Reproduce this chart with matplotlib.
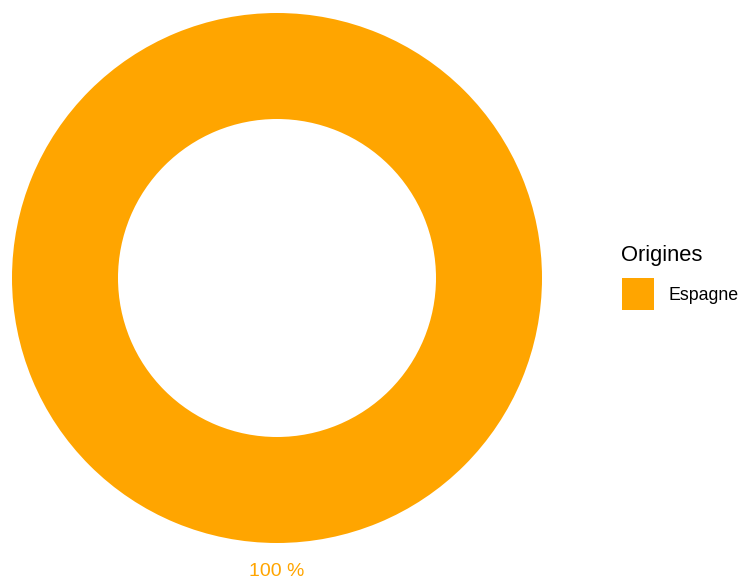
import matplotlib
matplotlib.use("Agg")
import matplotlib.pyplot as plt
from matplotlib.patches import Rectangle

plt.rcParams['font.family'] = ['Liberation Sans', 'DejaVu Sans']

categories = ["Espagne"]
values = [100]
colors = ["#FFA500"]
legend_title = "Origines"

W, H = 741, 581
fig = plt.figure(figsize=(W/100, H/100), dpi=100)

cx, cy, R = 277, 278, 265
ax = fig.add_axes([(cx-R)/W, (H-cy-R)/H, 2*R/W, 2*R/H])
ax.set_xlim(-1, 1)
ax.set_ylim(-1, 1)
ax.set_aspect('equal')
ax.axis('off')

total = sum(values)
ax.pie(values, colors=colors, radius=1, startangle=90, counterclock=False,
       wedgeprops=dict(width=0.4, edgecolor='none'))
ax.set_xlim(-1, 1)
ax.set_ylim(-1, 1)
for v, c in zip(values, colors):
    ax.text(0, -(571-cy)/R, f"{round(100*v/total)} %", color=c, fontsize=14,
            ha='center', va='center', clip_on=False)

fig.text(621/W, 1-256/H, legend_title, fontsize=15.8, ha='left', va='center')
for i, (cat, c) in enumerate(zip(categories, colors)):
    y0 = 278 + i*34
    fig.patches.append(Rectangle((622/W, 1-(y0+32)/H), 32/W, 32/H,
                                 transform=fig.transFigure, facecolor=c,
                                 edgecolor='none', figure=fig))
    fig.text(668/W, 1-(y0+17)/H, cat, fontsize=12.8, ha='left', va='center')

fig.savefig("out.png", dpi=100)
